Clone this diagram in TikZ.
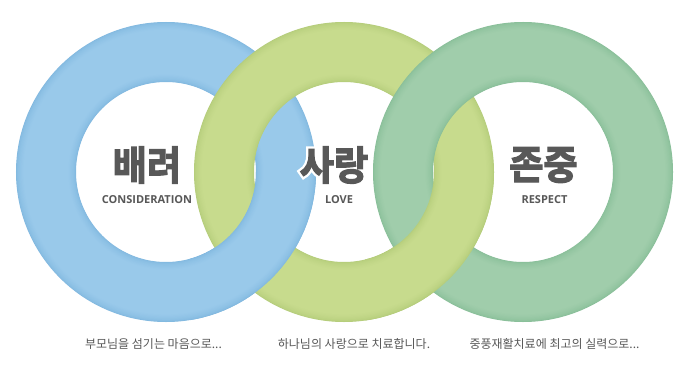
\documentclass[tikz,border=0pt]{standalone}
\usepackage{fontspec}
\newfontfamily\kr{Noto Sans CJK KR}
\newfontfamily\krb{Noto Sans CJK KR Bold}[FakeBold=3]
\newfontfamily\krbo{Noto Sans CJK KR Bold}[FakeBold=15]
\newfontfamily\en{Open Sans}
\definecolor{bluebase}{HTML}{99C9EA}
\definecolor{blueedge}{HTML}{82B9E0}
\definecolor{limebase}{HTML}{C7DB8D}
\definecolor{limeedge}{HTML}{B5CD7B}
\definecolor{greenbase}{HTML}{A0CDAB}
\definecolor{greenedge}{HTML}{89BF99}
\definecolor{txt}{HTML}{585858}
\newcommand\myring[3]{%
  \foreach \i in {0,...,14}{%
    \pgfmathsetmacro\w{60-\i*1.1}%
    \pgfmathsetmacro\m{100*(\i/14)^0.6}%
    \draw[line width=\w pt, color=#2!\m!#3] #1 circle[radius=120pt];
  }}
\tikzset{
  titletext/.style={font=\krb\fontsize{40}{40}\selectfont, text=txt, inner sep=0pt, xscale=0.93},
  outlinetext/.style={font=\krbo\fontsize{40}{40}\selectfont, text=white, inner sep=0pt, xscale=0.93},
  subtext/.style={font=\en\bfseries\fontsize{11}{11}\selectfont, text=txt, inner sep=0pt},
  captext/.style={font=\kr\fontsize{12}{12}\selectfont, text=txt, inner sep=0pt}
}
\begin{document}
\begin{tikzpicture}[x=1pt,y=-1pt]
\useasboundingbox (0,0) rectangle (688,369);
\fill[white] (0,0) rectangle (688,369);
% rings
\coordinate (cb) at (166,172);
\coordinate (cl) at (344,172);
\coordinate (cg) at (523,172);
\myring{(cb)}{bluebase}{blueedge}
\myring{(cl)}{limebase}{limeedge}
\myring{(cg)}{greenbase}{greenedge}
% interlocking: blue over lime at bottom
\begin{scope}
  \clip (190,172) rectangle (330,369);
  \myring{(cb)}{bluebase}{blueedge}
\end{scope}
% lime over green at bottom
\begin{scope}
  \clip (365,172) rectangle (505,369);
  \myring{(cl)}{limebase}{limeedge}
\end{scope}
% titles
\node[titletext] (t1) at (147,165) {배려};
\node[outlinetext] (t2o) at (334,165) {사랑};
\node[titletext] (t2) at (334,165) {사랑};
\node[titletext] (t3) at (543.5,165) {존중};
\node[subtext] (s1) at (147,199.5) {CONSIDERATION};
\node[subtext] (s2) at (339,199.5) {LOVE};
\node[subtext] (s3) at (544.5,199.5) {RESPECT};
% captions
\node[captext] (c1) at (153.5,344) {부모님을 섬기는 마음으로...};
\node[captext] (c2) at (354,344) {하나님의 사랑으로 치료합니다.};
\node[captext] (c3) at (554.5,344) {중풍재활치료에 최고의 실력으로...};
\end{tikzpicture}
\end{document}
